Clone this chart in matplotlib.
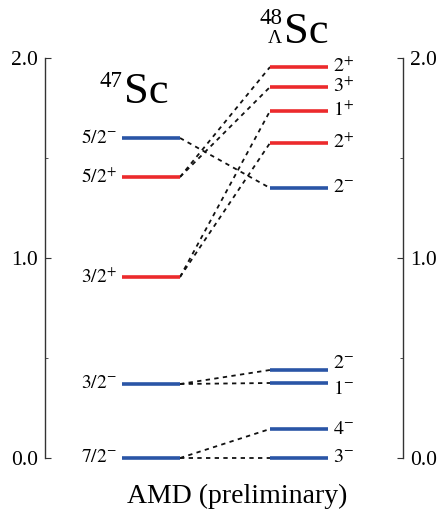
#!/usr/bin/python

import matplotlib
matplotlib.use('Agg')
import matplotlib.pyplot as plt

plt.rcParams['font.family'] = ['Liberation Serif', 'DejaVu Serif']
plt.rcParams['mathtext.fontset'] = 'stix'

# 47Sc levels (MeV)
sc47_energy = [0.0, 0.37, 0.905, 1.405, 1.60]
sc47_label = ['7/2', '3/2', '3/2', '5/2', '5/2']
sc47_parity = ['-', '-', '+', '+', '-']

# 48(Lambda)Sc levels (MeV)
sc48_energy = [0.0, 0.145, 0.375, 0.44, 1.35, 1.575, 1.735, 1.855, 1.955]
sc48_label = ['3', '4', '1', '2', '2', '2', '1', '3', '2']
sc48_parity = ['-', '-', '-', '-', '-', '+', '+', '+', '+']

# which 48Sc level comes from which 47Sc level (index pairs)
links = [(0, 0), (0, 1), (1, 2), (1, 3), (4, 4), (2, 5), (2, 6), (3, 7), (3, 8)]

RED = '#ec2a2c'
BLUE = '#2a55a6'
colors = {'+': RED, '-': BLUE}

# label nudges (energy units) so close doublets don't collide
sc48_nudge = [0, 0, -0.035, 0.03, 0, 0, 0, 0, 0]

fig = plt.figure(figsize=(4.43, 5.12), dpi=100)
ax = fig.add_axes([45/443, 54/512, 358/443, 400/512])
ax.set_xlim(45, 403)
ax.set_ylim(0, 2)

L0, L1 = 122, 180
R0, R1 = 270, 328

for a, b in links:
	ax.plot([L1, R0], [sc47_energy[a], sc48_energy[b]], color='#111111', lw=1.3,
		linestyle=(0, (2.4, 2.4)), zorder=1, clip_on=False)

for e, lab, p in zip(sc47_energy, sc47_label, sc47_parity):
	ax.plot([L0, L1], [e, e], color=colors[p], lw=2.6, solid_capstyle='butt', zorder=2,
		clip_on=False)
	ax.text(L0-5, e, r'$\mathrm{%s}^{%s}$' % (lab, p), ha='right', va='center',
		fontsize=14)

for e, lab, p, dn in zip(sc48_energy, sc48_label, sc48_parity, sc48_nudge):
	ax.plot([R0, R1], [e, e], color=colors[p], lw=2.6, solid_capstyle='butt', zorder=2,
		clip_on=False)
	ax.text(R1+5, e+dn, r'$\mathrm{%s}^{%s}$' % (lab, p), ha='left', va='center',
		fontsize=14.5)

# nucleus names
ax.text(124, 1.775, 'Sc', fontsize=32, ha='left', va='baseline')
ax.text(122, 1.855, '47', fontsize=16.5, ha='right', va='baseline')
ax.text(284, 2.075, 'Sc', fontsize=32, ha='left', va='baseline', clip_on=False)
ax.text(283, 2.172, '48', fontsize=16.5, ha='right', va='baseline', clip_on=False)
ax.text(282, 2.075, 'Λ', fontsize=14, ha='right', va='baseline', clip_on=False)

ax.text(237, -0.225, 'AMD (preliminary)', fontsize=20, ha='center', va='baseline')

for s in ['top', 'bottom']:
	ax.spines[s].set_visible(False)
for s in ['left', 'right']:
	ax.spines[s].set_color('#333333')
	ax.spines[s].set_linewidth(1.0)

ax.set_xticks([])
ax.set_yticks([0.0, 1.0, 2.0])
ax.set_yticklabels(['0.0', '1.0', '2.0'])
ax.set_yticks([0.5, 1.5], minor=True)
ax.tick_params(axis='y', which='both', direction='in', left=True, right=True,
	labelleft=True, labelright=True, labelsize=15.5, pad=5, color='#333333')
ax.tick_params(axis='y', which='major', length=4)
ax.tick_params(axis='y', which='minor', length=2)

fig.savefig('out.png', dpi=100)
